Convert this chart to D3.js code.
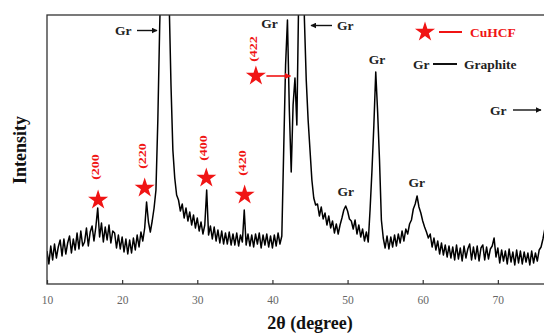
<!DOCTYPE html>
<html>
<head>
<meta charset="utf-8">
<script src="https://cdn.jsdelivr.net/npm/d3@7"></script>
<style>
  html, body { margin: 0; padding: 0; background: #fff; }
  svg { display: block; }
</style>
</head>
<body>
<div id="chart"></div>
<script>
// XRD scan: 2theta starts at 10 deg, one reading every 0.25 deg (a.u.)
const scanStart = 10;
const scanStep = 0.25;
const intensity = [
  33, 20, 38, 24,   40, 26, 37, 44,   28, 45, 30, 41,   48, 31, 45, 34,   // 10-13
  51, 35, 53, 38,   42, 56, 38, 52,   58, 43, 57, 76,   47, 61, 42, 57,   // 14-17
  44, 59, 41, 53,   51, 36, 49, 35,   47, 32, 45, 30,   44, 31, 46, 34,   // 18-21
  49, 37, 52, 43,   56, 82, 62, 52,   63, 76, 94, 164,  259, 330, 420, 460, // 22-25
  410, 285, 199, 134, 106, 89, 84, 73, 80, 66, 76, 63,  72, 59, 69, 56,   // 26-29
  66, 53, 62, 50,   59, 94, 49, 58,   45, 57, 43, 54,   41, 53, 40, 51,   // 30-33
  40, 52, 39, 50,   39, 51, 38, 49,   42, 74, 39, 50,   38, 49, 37, 50,   // 34-37
  40, 51, 36, 49,   39, 50, 37, 48,   36, 49, 38, 51,   40, 48, 134, 219, // 38-41
  264, 174, 112, 179, 206, 159, 290, 420, 440, 266, 204, 164, 134, 104, 86, 79, // 42-45
  80, 68, 77, 65,   71, 59, 68, 56,   63, 51, 60, 50,   59, 66, 74, 78,   // 46-49
  73, 65, 63, 55,   64, 50, 59, 47,   55, 43, 52, 42,   75, 114, 159, 212, // 50-53
  172, 124, 64, 46, 36, 48, 35, 47,   37, 49, 38, 50,   41, 53, 43, 55,   // 54-57
  50, 60, 64, 75,   80, 88, 77, 71,   63, 57, 52, 46,   50, 37, 46, 34,   // 58-61
  43, 30, 41, 29,   39, 27, 38, 26,   37, 24, 39, 25,   36, 23, 38, 26,   // 62-65
  35, 40, 24, 37,   25, 38, 23, 36,   39, 24, 37, 25,   35, 38, 46, 27,   // 66-69
  36, 21, 34, 23,   33, 20, 35, 22,   32, 19, 34, 21,   33, 20, 32, 22,   // 70-73
  31, 19, 33, 21,   31, 23, 34, 37,   45, 55, 62, 75,   95                // 74-77
];

const xTicks = [10, 20, 30, 40, 50, 60, 70];

// CuHCF reflections marked with stars
const cuhcfLabels = ["(200", "(220", "(400", "(420", "(422"];
const cuhcfAngles = [16.8, 23.0, 31.2, 36.3, 37.8];
const starLevels = [84, 96, 106, 89, 208];
const labelLevels = [117, 128, 136, 121, 235];

// graphite peaks labelled "Gr" right above them
const grAngles = [39.6, 53.9, 49.75, 59.2];
const grLevels = [256.5, 220, 88, 97];

const width = 544, height = 335;
const serif = '"Liberation Serif", "Times New Roman", serif';
const red = "#f01414";

const x = d3.scaleLinear().domain([10, 80]).range([47, 573]);
const y = d3.scaleLinear().domain([0, 269]).range([284, 15]);

const svg = d3.select("#chart").append("svg")
  .attr("width", width)
  .attr("height", height)
  .attr("font-family", serif);

const defs = svg.append("defs");
defs.append("clipPath").attr("id", "plot-clip")
  .append("rect")
  .attr("x", x(10)).attr("y", y(269))
  .attr("width", x(80) - x(10)).attr("height", y(0) - y(269));

function marker(id, color) {
  defs.append("marker")
    .attr("id", id)
    .attr("viewBox", "0 0 10 10")
    .attr("refX", 9).attr("refY", 5)
    .attr("markerWidth", 6).attr("markerHeight", 6)
    .attr("markerUnits", "userSpaceOnUse")
    .attr("orient", "auto")
    .append("path")
    .attr("d", "M0,0 L10,5 L0,10 Z")
    .attr("fill", color);
}
marker("arrow-black", "#111");
marker("arrow-red", red);

// the trace
const points = intensity.map((v, i) => [scanStart + i * scanStep, v]);
const line = d3.line().x(d => x(d[0])).y(d => y(d[1]));

svg.append("path")
  .datum(points)
  .attr("clip-path", "url(#plot-clip)")
  .attr("fill", "none")
  .attr("stroke", "#000")
  .attr("stroke-width", 1.5)
  .attr("stroke-linejoin", "round")
  .attr("d", line);

// frame
svg.append("rect")
  .attr("x", x(10)).attr("y", y(269))
  .attr("width", x(80) - x(10)).attr("height", y(0) - y(269))
  .attr("fill", "none")
  .attr("stroke", "#333")
  .attr("stroke-width", 1.3);

// bottom axis, ticks pointing inward
const xAxis = d3.axisBottom(x)
  .tickValues(xTicks)
  .tickSizeInner(-4)
  .tickSizeOuter(0)
  .tickPadding(12);

svg.append("g")
  .attr("transform", `translate(0,${y(0)})`)
  .call(xAxis)
  .call(g => g.select(".domain").remove())
  .call(g => g.selectAll(".tick line").attr("stroke", "#333").attr("stroke-width", 1.2))
  .call(g => g.selectAll(".tick text")
    .attr("fill", "#666")
    .attr("font-family", serif)
    .attr("font-size", 11.5));

// axis titles
svg.append("text")
  .attr("x", (x(10) + x(80)) / 2)
  .attr("y", 329)
  .attr("text-anchor", "middle")
  .attr("font-size", 18)
  .attr("font-weight", "bold")
  .attr("fill", "#111")
  .text("2θ (degree)");

svg.append("text")
  .attr("transform", "translate(26,150) rotate(-90)")
  .attr("text-anchor", "middle")
  .attr("font-size", 18)
  .attr("font-weight", "bold")
  .attr("fill", "#111")
  .text("Intensity");

// CuHCF stars and their (hkl) labels
const star = d3.symbol().type(d3.symbolStar).size(125);

cuhcfAngles.forEach((a, i) => {
  svg.append("path")
    .attr("d", star())
    .attr("transform", `translate(${x(a)},${y(starLevels[i])})`)
    .attr("fill", red);
  svg.append("text")
    .attr("transform", `translate(${x(a) + 1},${y(labelLevels[i])}) rotate(-90) scale(1,0.68)`)
    .attr("text-anchor", "middle")
    .attr("font-size", 14)
    .attr("font-weight", "bold")
    .attr("fill", red)
    .text(cuhcfLabels[i]);
});

// (422) pointer to the peak
svg.append("line")
  .attr("x1", x(39.2)).attr("x2", x(42.4))
  .attr("y1", y(208)).attr("y2", y(208))
  .attr("stroke", red)
  .attr("stroke-width", 1.6)
  .attr("marker-end", "url(#arrow-red)");

// "Gr" labels right above graphite peaks
grAngles.forEach((a, i) => {
  svg.append("text")
    .attr("x", x(a)).attr("y", y(grLevels[i]))
    .attr("text-anchor", "middle")
    .attr("font-size", 13.5)
    .attr("font-weight", "bold")
    .attr("fill", "#222")
    .text("Gr");
});

// "Gr" with arrows for peaks that run off the frame
function grArrow(tx, ty, x1, x2, ay) {
  svg.append("text")
    .attr("x", tx).attr("y", ty)
    .attr("font-size", 13.5)
    .attr("font-weight", "bold")
    .attr("fill", "#222")
    .text("Gr");
  svg.append("line")
    .attr("x1", x1).attr("x2", x2)
    .attr("y1", ay).attr("y2", ay)
    .attr("stroke", "#111")
    .attr("stroke-width", 1.4)
    .attr("marker-end", "url(#arrow-black)");
}
grArrow(115, 35, 137, 157, 30.5);
grArrow(337, 30, 332, 311, 25.5);
grArrow(490, 114.5, 513, 541, 110);

// legend
const legend = svg.append("g");
legend.append("path")
  .attr("d", star())
  .attr("transform", "translate(425,32)")
  .attr("fill", red);
legend.append("line")
  .attr("x1", 439).attr("x2", 462).attr("y1", 32).attr("y2", 32)
  .attr("stroke", red).attr("stroke-width", 2);
legend.append("text")
  .attr("x", 470).attr("y", 36.5)
  .attr("font-size", 13.5).attr("font-weight", "bold")
  .attr("fill", red)
  .text("CuHCF");
legend.append("text")
  .attr("x", 413).attr("y", 68.5)
  .attr("font-size", 13.5).attr("font-weight", "bold")
  .attr("fill", "#222")
  .text("Gr");
legend.append("line")
  .attr("x1", 433).attr("x2", 457).attr("y1", 64).attr("y2", 64)
  .attr("stroke", "#111").attr("stroke-width", 2);
legend.append("text")
  .attr("x", 464).attr("y", 68.5)
  .attr("font-size", 13.5).attr("font-weight", "bold")
  .attr("fill", "#222")
  .text("Graphite");
</script>
</body>
</html>
